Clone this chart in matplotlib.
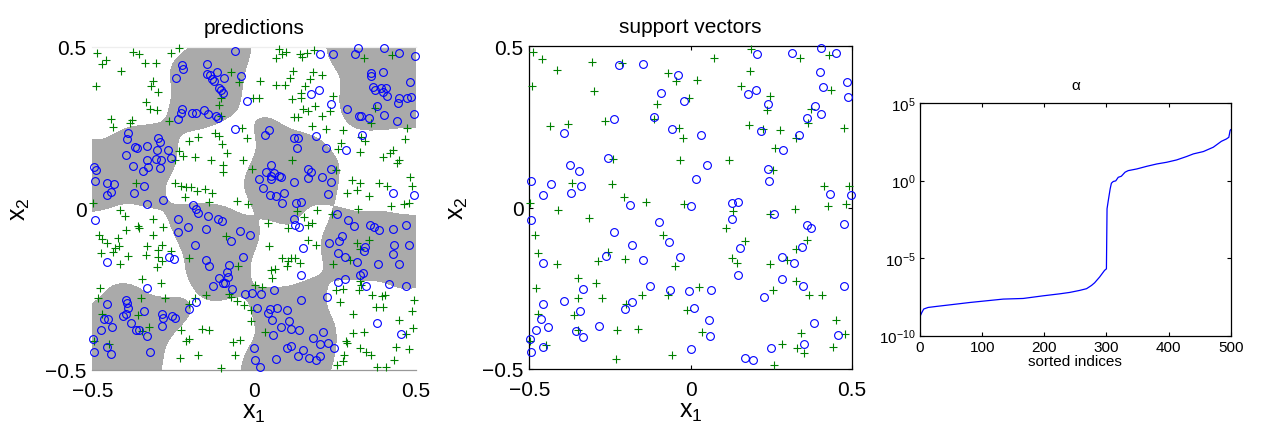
import matplotlib
matplotlib.use('Agg')
import matplotlib.pyplot as plt
import numpy as np

plt.rcParams['font.family'] = ['Liberation Sans', 'DejaVu Sans']
plt.rcParams['mathtext.fontset'] = 'custom'
plt.rcParams['mathtext.rm'] = 'Liberation Sans'
plt.rcParams['mathtext.it'] = 'Liberation Sans:italic'
plt.rcParams['mathtext.default'] = 'regular'

# ---------------- data ----------------
# predictions panel: class "o" (blue circles) and class "+" (green plus)
pred_circles = np.array([
    (-0.058, 0.488), (-0.222, 0.443), (-0.219, 0.431), (-0.240, 0.404), (-0.147, 0.446),
    (-0.147, 0.416), (-0.137, 0.413), (-0.130, 0.400), (-0.125, 0.395), (-0.114, 0.421),
    (-0.092, 0.402), (-0.109, 0.373), (-0.101, 0.367), (-0.095, 0.356), (-0.041, 0.410),
    (-0.021, 0.332), (-0.222, 0.308), (-0.226, 0.296), (-0.235, 0.275), (-0.193, 0.295),
    (-0.179, 0.294), (-0.156, 0.305), (-0.142, 0.293), (-0.118, 0.286), (-0.111, 0.281),
    (-0.058, 0.244), (-0.391, 0.234), (-0.393, 0.214), (-0.368, 0.190), (-0.362, 0.188),
    (-0.331, 0.194), (-0.298, 0.218), (-0.290, 0.205), (-0.265, 0.182), (-0.395, 0.164),
    (-0.300, 0.179), (-0.332, 0.151), (-0.304, 0.153), (-0.287, 0.151), (-0.256, 0.156),
    (-0.373, 0.132), (-0.329, 0.127), (-0.344, 0.116), (-0.290, 0.124), (-0.496, 0.127),
    (-0.488, 0.120), (-0.493, 0.086), (-0.454, 0.079), (-0.432, 0.074), (-0.441, 0.052),
    (-0.456, 0.041), (-0.340, 0.069), (-0.370, 0.046), (-0.331, 0.013), (-0.281, 0.025),
    (-0.188, 0.011),
    (0.204, 0.476), (0.245, 0.476), (0.320, 0.495), (0.312, 0.477), (0.402, 0.495),
    (0.448, 0.481), (0.498, 0.472), (0.360, 0.419), (0.362, 0.410), (0.399, 0.421),
    (0.368, 0.376), (0.373, 0.367), (0.391, 0.371), (0.399, 0.359), (0.406, 0.373),
    (0.410, 0.348), (0.481, 0.390), (0.449, 0.340), (0.471, 0.342), (0.484, 0.344),
    (0.444, 0.327), (0.379, 0.316), (0.493, 0.292), (0.441, 0.271), (0.400, 0.290),
    (0.176, 0.354), (0.201, 0.367), (0.237, 0.323), (0.286, 0.306), (0.323, 0.285),
    (0.331, 0.286), (0.356, 0.279), (0.032, 0.227), (0.047, 0.242), (0.124, 0.218),
    (0.134, 0.217), (0.190, 0.225), (0.333, 0.228), (0.133, 0.187), (0.223, 0.188),
    (0.285, 0.181), (0.051, 0.134), (0.038, 0.111), (0.051, 0.101), (0.061, 0.110),
    (0.077, 0.101), (0.083, 0.098), (0.016, 0.091), (0.052, 0.091), (0.028, 0.062),
    (0.122, 0.081), (0.166, 0.122), (0.177, 0.113), (0.165, 0.093), (0.211, 0.098),
    (0.236, 0.121), (0.238, 0.082), (0.049, 0.041), (0.066, 0.039), (0.091, 0.048),
    (0.086, 0.016), (0.129, 0.016), (0.146, 0.020), (0.229, 0.045), (0.429, 0.046),
    (0.494, 0.040),
    (-0.491, -0.035), (-0.234, -0.034), (-0.234, -0.073), (-0.203, -0.059), (-0.180, -0.003),
    (-0.173, -0.014), (-0.144, -0.024), (-0.112, -0.034), (-0.100, -0.040), (-0.150, -0.065),
    (-0.043, -0.071), (-0.012, -0.081), (-0.070, -0.102), (-0.182, -0.113), (-0.262, -0.149),
    (-0.248, -0.156), (-0.455, -0.166), (-0.148, -0.161), (-0.140, -0.179), (-0.034, -0.151),
    (-0.078, -0.176), (-0.083, -0.196), (-0.082, -0.212), (-0.110, -0.216), (-0.097, -0.232),
    (-0.090, -0.231), (-0.126, -0.239), (-0.067, -0.251), (-0.029, -0.265), (-0.008, -0.262),
    (-0.332, -0.247), (-0.456, -0.297), (-0.397, -0.284), (-0.394, -0.292), (-0.391, -0.309),
    (-0.405, -0.333), (-0.396, -0.328), (-0.463, -0.341), (-0.450, -0.342), (-0.440, -0.368),
    (-0.474, -0.376), (-0.497, -0.404), (-0.494, -0.445), (-0.454, -0.430), (-0.443, -0.452),
    (-0.379, -0.356), (-0.366, -0.376), (-0.355, -0.377), (-0.331, -0.396), (-0.341, -0.316),
    (-0.323, -0.444), (-0.285, -0.326), (-0.283, -0.340), (-0.284, -0.364), (-0.253, -0.332),
    (-0.245, -0.339), (-0.201, -0.310), (-0.180, -0.289), (0.000, -0.433),
    (0.256, -0.019), (0.289, -0.036), (0.309, -0.056), (0.357, -0.052), (0.369, -0.059),
    (0.387, -0.068), (0.429, -0.065), (0.469, -0.050), (0.124, -0.033), (0.127, -0.050),
    (0.140, -0.058), (0.270, -0.084), (0.263, -0.100), (0.232, -0.107), (0.343, -0.120),
    (0.340, -0.133), (0.432, -0.112), (0.477, -0.112), (0.429, -0.140), (0.260, -0.138),
    (0.281, -0.152), (0.319, -0.167), (0.383, -0.172), (0.448, -0.172), (0.152, -0.124),
    (0.335, -0.199), (0.326, -0.206), (0.282, -0.218), (0.258, -0.229), (0.346, -0.239),
    (0.416, -0.233), (0.470, -0.240), (0.146, -0.205), (0.062, -0.253), (0.020, -0.264),
    (0.145, -0.285), (0.224, -0.275), (0.010, -0.307), (0.042, -0.323), (0.050, -0.311),
    (0.072, -0.309), (0.103, -0.314), (0.056, -0.345), (0.108, -0.347), (0.083, -0.367),
    (0.115, -0.372), (0.140, -0.375), (0.059, -0.392), (0.182, -0.400), (0.212, -0.381),
    (0.202, -0.420), (0.227, -0.418), (0.248, -0.432), (0.101, -0.432), (0.115, -0.425),
    (0.152, -0.437), (0.137, -0.456), (0.168, -0.463), (0.192, -0.469), (0.204, -0.458),
    (0.067, -0.467), (0.002, -0.469), (0.017, -0.491), (0.380, -0.355), (0.453, -0.390),
])

pred_plus = np.array([
    (-0.486, 0.482), (-0.459, 0.460), (-0.471, 0.446), (-0.375, 0.485), (-0.356, 0.478),
    (-0.336, 0.449), (-0.304, 0.449), (-0.257, 0.482), (-0.231, 0.495), (-0.412, 0.425),
    (-0.490, 0.377), (-0.312, 0.393), (-0.320, 0.378), (-0.298, 0.361), (-0.333, 0.330),
    (-0.321, 0.307), (-0.301, 0.304), (-0.441, 0.275), (-0.377, 0.273), (-0.382, 0.264),
    (-0.437, 0.252), (-0.264, 0.271), (-0.201, 0.208), (-0.172, 0.222), (-0.231, 0.176),
    (-0.220, 0.161), (-0.243, 0.151), (-0.183, 0.158), (-0.134, 0.149), (-0.120, 0.233),
    (-0.108, 0.223), (-0.098, 0.199), (-0.083, 0.170), (-0.072, 0.421), (-0.046, 0.392),
    (-0.102, 0.341), (-0.108, 0.320), (-0.102, 0.285), (-0.038, 0.247), (-0.021, 0.218),
    (-0.034, 0.151), (-0.007, 0.122), (-0.095, 0.134), (-0.097, 0.111), (-0.364, 0.078),
    (-0.245, 0.077), (-0.226, 0.068), (-0.210, 0.065), (-0.194, 0.067), (-0.176, 0.055),
    (-0.152, 0.060), (-0.130, 0.049), (-0.214, 0.034), (-0.139, 0.021), (-0.052, 0.023),
    (-0.020, 0.012), (-0.497, 0.016),
    (0.076, 0.493), (0.085, 0.477), (0.097, 0.485), (0.067, 0.464), (0.141, 0.477),
    (0.149, 0.467), (0.164, 0.480), (0.185, 0.491), (0.338, 0.465), (0.426, 0.474),
    (0.017, 0.395), (0.119, 0.424), (0.112, 0.404), (0.182, 0.423), (0.210, 0.412),
    (0.172, 0.399), (0.067, 0.382), (0.094, 0.381), (0.156, 0.377), (0.146, 0.356),
    (0.117, 0.338), (0.145, 0.340), (-0.005, 0.341), (0.015, 0.340), (0.244, 0.348),
    (0.188, 0.318), (0.151, 0.307), (0.165, 0.302), (0.233, 0.302), (0.374, 0.309),
    (0.122, 0.282), (0.136, 0.284), (0.211, 0.285), (0.360, 0.264), (0.180, 0.256),
    (0.223, 0.245), (0.274, 0.242), (0.329, 0.220), (0.343, 0.207), (0.267, 0.201),
    (0.260, 0.184), (0.326, 0.173), (0.471, 0.247), (0.465, 0.214), (0.429, 0.181),
    (0.420, 0.171), (0.399, 0.160), (0.447, 0.151), (0.440, 0.139), (0.117, 0.149),
    (0.254, 0.119), (0.302, 0.087), (0.326, 0.077), (0.286, 0.049), (0.317, 0.057),
    (0.385, 0.078), (0.410, 0.068), (0.482, 0.097), (0.488, 0.070), (0.356, 0.038),
    (0.423, 0.008), (0.462, 0.013), (0.477, 0.016),
    (-0.413, -0.005), (-0.398, -0.023), (-0.313, -0.032), (-0.360, -0.055), (-0.357, -0.061),
    (-0.396, -0.068), (-0.282, -0.059), (-0.311, -0.082), (-0.480, -0.082), (-0.471, -0.096),
    (-0.455, -0.107), (-0.422, -0.092), (-0.417, -0.118), (-0.430, -0.124), (-0.437, -0.134),
    (-0.472, -0.138), (-0.390, -0.148), (-0.414, -0.172), (-0.331, -0.116), (-0.333, -0.143),
    (-0.284, -0.112), (-0.296, -0.128), (-0.296, -0.152), (-0.284, -0.162), (-0.301, -0.180),
    (-0.257, -0.133), (-0.202, -0.155), (-0.086, -0.085), (-0.049, -0.177), (-0.477, -0.245),
    (-0.481, -0.278), (-0.348, -0.217), (-0.289, -0.232), (-0.350, -0.276), (-0.276, -0.276),
    (-0.182, -0.277), (-0.150, -0.267), (-0.200, -0.295), (-0.077, -0.265), (-0.072, -0.274),
    (-0.054, -0.287), (-0.032, -0.299), (-0.011, -0.315), (0.004, -0.236), (-0.471, -0.327),
    (-0.360, -0.330), (-0.010, -0.347), (-0.227, -0.376), (-0.162, -0.373), (-0.139, -0.376),
    (-0.325, -0.366), (-0.345, -0.378), (-0.496, -0.409), (-0.449, -0.420), (-0.212, -0.409),
    (-0.202, -0.403), (-0.064, -0.412), (-0.044, -0.406), (-0.174, -0.454), (-0.229, -0.464),
    (-0.059, -0.454), (-0.101, -0.493),
    (0.131, -0.007), (0.194, -0.006), (0.240, -0.016), (0.320, -0.002), (0.155, -0.026),
    (0.178, -0.044), (0.167, -0.052), (0.105, -0.060), (0.043, -0.045), (0.046, -0.116),
    (0.166, -0.099), (0.190, -0.113), (0.086, -0.154), (0.104, -0.163), (0.113, -0.154),
    (0.125, -0.155), (0.102, -0.178), (0.141, -0.169), (0.053, -0.190), (0.063, -0.189),
    (0.054, -0.216), (0.025, -0.242), (0.319, -0.106), (0.328, -0.126), (0.354, -0.098),
    (0.295, -0.160), (0.243, -0.173), (0.327, -0.226), (0.329, -0.236), (0.253, -0.253),
    (0.275, -0.251), (0.324, -0.253), (0.364, -0.267), (0.394, -0.271), (0.404, -0.267),
    (0.495, -0.283), (0.264, -0.291), (0.376, -0.305), (0.399, -0.305), (0.304, -0.328),
    (0.489, -0.318), (0.447, -0.344), (0.033, -0.382), (0.305, -0.386), (0.340, -0.383),
    (0.492, -0.369), (0.470, -0.390), (0.283, -0.409), (0.287, -0.416), (0.327, -0.433),
    (0.347, -0.444), (0.361, -0.453), (0.437, -0.429), (0.479, -0.436), (0.279, -0.453),
    (0.275, -0.471), (0.433, -0.468), (0.257, -0.485), (0.379, -0.490), (0.408, -0.490),
])

# support vectors panel
sv_circles = np.array([
    (-0.222, 0.441), (-0.147, 0.446), (-0.040, 0.411), (-0.092, 0.356), (-0.019, 0.331),
    (-0.236, 0.275), (-0.112, 0.281), (-0.393, 0.230), (-0.056, 0.243), (-0.256, 0.154),
    (-0.375, 0.131), (-0.345, 0.115), (-0.495, 0.084), (-0.433, 0.072), (-0.341, 0.067),
    (-0.457, 0.040), (-0.372, 0.044), (-0.187, 0.009), (0.000, 0.006),
    (0.206, 0.475), (0.316, 0.478), (0.406, 0.494), (0.452, 0.480), (0.403, 0.419),
    (0.486, 0.388), (0.411, 0.375), (0.487, 0.342), (0.178, 0.352), (0.204, 0.366),
    (0.241, 0.321), (0.386, 0.315), (0.404, 0.289), (0.360, 0.279), (0.033, 0.225),
    (0.218, 0.237), (0.336, 0.226), (0.288, 0.179), (0.052, 0.132), (0.240, 0.119),
    (0.018, 0.089), (0.242, 0.083), (0.434, 0.043), (0.498, 0.038), (0.130, 0.014),
    (0.147, 0.017),
    (-0.494, -0.037), (-0.099, -0.044), (-0.236, -0.076), (-0.068, -0.105), (-0.182, -0.116),
    (-0.262, -0.151), (-0.457, -0.170), (-0.148, -0.163), (-0.032, -0.154), (-0.333, -0.251),
    (-0.126, -0.243), (-0.065, -0.254), (-0.005, -0.259), (-0.393, -0.289), (-0.459, -0.300),
    (-0.180, -0.291), (-0.204, -0.314), (-0.342, -0.319), (-0.463, -0.345), (-0.441, -0.370),
    (-0.478, -0.380), (-0.356, -0.381), (-0.285, -0.368), (-0.332, -0.400), (-0.498, -0.408),
    (-0.456, -0.433), (-0.494, -0.448), (0.000, -0.437),
    (0.128, -0.036), (0.259, -0.021), (0.361, -0.055), (0.374, -0.062), (0.475, -0.052),
    (0.155, -0.126), (0.347, -0.123), (0.283, -0.154), (0.322, -0.170), (0.148, -0.209),
    (0.285, -0.220), (0.350, -0.243), (0.475, -0.244), (0.065, -0.255), (0.227, -0.278),
    (0.012, -0.310), (0.057, -0.348), (0.383, -0.358), (0.060, -0.397), (0.456, -0.394),
    (0.250, -0.436), (0.352, -0.424), (0.170, -0.466), (0.195, -0.472),
])

sv_plus = np.array([
    (-0.488, 0.483), (-0.460, 0.461), (-0.413, 0.426), (-0.305, 0.450), (-0.211, 0.448),
    (-0.491, 0.377), (-0.299, 0.361), (-0.070, 0.418), (-0.044, 0.392), (-0.104, 0.320),
    (-0.437, 0.252), (-0.380, 0.260), (-0.265, 0.270), (-0.112, 0.276), (-0.037, 0.248),
    (-0.022, 0.216), (-0.241, 0.151), (-0.032, 0.149), (-0.367, 0.077), (-0.243, 0.074),
    (-0.206, 0.034), (-0.139, 0.019), (-0.021, 0.012), (-0.498, 0.014), (-0.005, 0.341),
    (0.187, 0.491), (0.072, 0.463), (0.341, 0.465), (0.431, 0.472), (0.184, 0.423),
    (0.019, 0.396), (0.158, 0.377), (0.435, 0.366), (0.248, 0.347), (0.236, 0.302),
    (0.375, 0.307), (0.363, 0.262), (0.182, 0.255), (0.224, 0.243), (0.278, 0.241),
    (0.328, 0.216), (0.475, 0.246), (0.261, 0.184), (0.118, 0.148), (0.256, 0.118),
    (0.415, 0.066), (0.491, 0.067), (0.425, 0.005), (0.481, 0.012), (0.324, -0.003),
    (-0.412, -0.007), (-0.315, -0.033), (-0.482, -0.085), (-0.086, -0.086), (-0.473, -0.141),
    (-0.415, -0.175), (-0.287, -0.166), (-0.257, -0.137), (-0.203, -0.158), (-0.049, -0.181),
    (-0.478, -0.248), (-0.350, -0.219), (-0.292, -0.233), (-0.350, -0.279), (-0.276, -0.280),
    (-0.149, -0.270), (-0.070, -0.271), (-0.200, -0.298), (-0.010, -0.316), (-0.472, -0.330),
    (-0.362, -0.333), (-0.350, -0.378), (-0.229, -0.380), (-0.163, -0.376), (-0.498, -0.414),
    (-0.449, -0.427), (-0.230, -0.468), (-0.058, -0.458),
    (0.133, -0.010), (0.246, -0.020), (0.110, -0.062), (0.168, -0.102), (0.361, -0.099),
    (0.328, -0.129), (0.128, -0.157), (0.144, -0.171), (0.247, -0.176), (0.298, -0.162),
    (0.328, -0.227), (0.025, -0.246), (0.255, -0.255), (0.368, -0.270), (0.407, -0.271),
    (0.451, -0.347), (0.035, -0.385), (0.342, -0.387), (0.478, -0.393), (0.284, -0.421),
    (0.329, -0.436), (0.353, -0.450), (0.441, -0.433), (0.260, -0.489),
])

# alpha panel: sorted index and log10(alpha)
alpha_idx = [0, 3, 6, 13, 27, 59, 80, 134, 166, 198, 225, 241, 257, 268, 276, 281, 289,
             297, 300, 301, 303, 306, 308, 311, 315, 319, 324, 330, 335, 349, 365, 381,
             397, 413, 429, 440, 456, 472, 485, 493, 497, 499, 500]
alpha_log10 = [-8.76, -8.5, -8.28, -8.18, -8.11, -7.96, -7.86, -7.64, -7.6, -7.43, -7.3,
               -7.21, -7.08, -6.97, -6.76, -6.59, -6.22, -5.79, -5.69, -1.82, -1.29, -0.54,
               -0.17, -0.06, -0.02, 0.21, 0.28, 0.54, 0.64, 0.75, 0.92, 1.07, 1.18, 1.33,
               1.55, 1.72, 1.87, 2.15, 2.53, 2.68, 2.79, 3.22, 3.28]

lim_ticks = [-0.5, 0, 0.5]
tick_labels = ['\u22120.5', '0', '0.5']

# ---------------- figure ----------------
W, H = 1261, 427
fig = plt.figure(figsize=(W / 100, H / 100), dpi=100)


def px_axes(l, r, t, b):
    return fig.add_axes([l / W, 1 - b / H, (r - l) / W, (b - t) / H])


circ_kw = dict(ls='none', marker='o', mfc='none', mec='#0000ff', ms=5.6, mew=0.8, clip_on=False, zorder=4)
plus_kw = dict(ls='none', marker='+', color='#008000', ms=5.6, mew=0.8, clip_on=False, zorder=4)

# --- predictions: smoothed vote of the labelled points ---
ax1 = px_axes(92.3, 416, 47.7, 371)
g = np.linspace(-0.5, 0.5, 400)
GX, GY = np.meshgrid(g, g)
s = 0.045
f = np.zeros_like(GX)
for px_, py_ in pred_circles:
    f += np.exp(-((GX - px_) ** 2 + (GY - py_) ** 2) / (2 * s * s))
for px_, py_ in pred_plus:
    f -= np.exp(-((GX - px_) ** 2 + (GY - py_) ** 2) / (2 * s * s))
ax1.contourf(GX, GY, f, levels=[0, f.max() + 1], colors=['#aaaaaa'])
ax1.plot(pred_plus[:, 0], pred_plus[:, 1], **plus_kw)
ax1.plot(pred_circles[:, 0], pred_circles[:, 1], **circ_kw)
ax1.set_xlim(-0.5, 0.5)
ax1.set_ylim(-0.5, 0.5)
for side in ['left', 'right']:
    ax1.spines[side].set_visible(False)
ax1.spines['top'].set_color('#eeeeee')
ax1.spines['bottom'].set_color('#999999')
ax1.tick_params(length=0, labelsize=15, pad=4)
ax1.tick_params(axis='x', pad=8)

# --- support vectors ---
ax2 = px_axes(529.3, 851.7, 47.3, 370)
ax2.plot(sv_plus[:, 0], sv_plus[:, 1], **plus_kw)
ax2.plot(sv_circles[:, 0], sv_circles[:, 1], **circ_kw)
ax2.set_xlim(-0.5, 0.5)
ax2.set_ylim(-0.5, 0.5)
ax2.tick_params(direction='in', top=True, right=True, length=3, width=0.8, labelsize=15, pad=4)
ax2.tick_params(axis='x', pad=8)

for ax, title in [(ax1, 'predictions'), (ax2, 'support vectors')]:
    ax.set_xticks(lim_ticks)
    ax.set_xticklabels(tick_labels)
    ax.set_yticks(lim_ticks)
    ax.set_yticklabels(tick_labels)
    ax.set_title(title, fontsize=15, pad=10)
    ax.set_xlabel('$x_1$', fontsize=18)
    ax.set_ylabel('$x_2$', fontsize=18)
    ax.xaxis.set_label_coords(0.5, -0.092)
    ax.yaxis.set_label_coords(-0.185, 0.5)
    for sp in ax.spines.values():
        sp.set_linewidth(0.9)

# --- alpha ---
ax3 = px_axes(920, 1230.7, 104, 336.7)
ax3.semilogy(alpha_idx, 10.0 ** np.array(alpha_log10), color='#0000ff', lw=0.9)
ax3.set_xlim(0, 500)
ax3.set_ylim(1e-10, 1e5)
ax3.set_xticks([0, 100, 200, 300, 400, 500])
ax3.set_yticks([1e-10, 1e-5, 1e0, 1e5])
ax3.minorticks_off()
ax3.tick_params(direction='in', top=True, right=True, length=3, width=0.8, labelsize=11, pad=3)
ax3.set_title('\u03b1', fontsize=11, pad=10)
ax3.set_xlabel('sorted indices', fontsize=11, labelpad=0)
for sp in ax3.spines.values():
    sp.set_linewidth(0.9)

fig.savefig('out.png', dpi=100)
